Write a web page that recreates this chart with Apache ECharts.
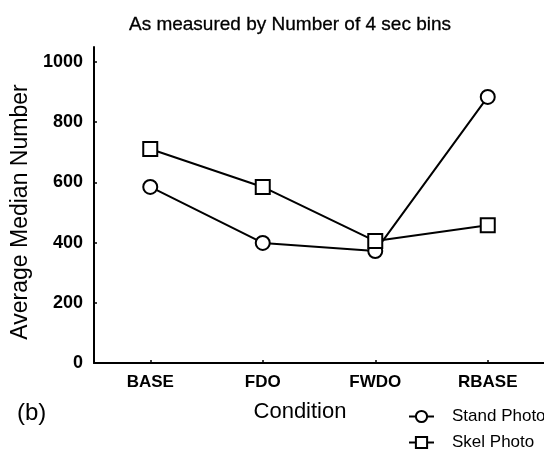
<!DOCTYPE html>
<html>
<head>
<meta charset="utf-8">
<script src="https://cdn.jsdelivr.net/npm/echarts@6/dist/echarts.min.js"></script>
<style>
  html, body { margin: 0; padding: 0; background: #fff; }
  #chart { width: 544px; height: 450px; }
</style>
</head>
<body>
<div id="chart"></div>
<script>
// Conditions along the horizontal axis
const conditions = ['BASE', 'FDO', 'FWDO', 'RBASE'];
// Average median number of 4 sec bins per condition
const standPhoto = [585, 399, 372, 884];
const skelPhoto = [711, 585, 405, 458];
// Values that get a tick and a label on the vertical axis
const yTicks = [0, 200, 400, 600, 800, 1000];

const FONT = '"Liberation Sans", Arial, Helvetica, sans-serif';
const INK = '#000';

const chart = echarts.init(document.getElementById('chart'), null, { renderer: 'canvas' });

// One legend entry per block so the two rows sit exactly where wanted
function legendBlock(name, top) {
  return {
    orient: 'vertical',
    left: 408,
    top: top,
    padding: 0,
    itemWidth: 25,
    itemHeight: 14,
    textStyle: { fontFamily: FONT, fontSize: 17, color: INK, padding: [0, 0, 0, 13] },
    data: [name]
  };
}

chart.setOption({
  animation: false,
  backgroundColor: '#fff',
  title: {
    text: 'As measured by Number of 4 sec bins',
    left: 285,
    top: 10,
    textAlign: 'center',
    textStyle: { fontFamily: FONT, fontSize: 19, fontWeight: 'normal', color: INK, textBorderColor: INK, textBorderWidth: 0.3 }
  },
  grid: { left: 94, top: 47, width: 452, bottom: 87, containLabel: false },
  legend: [legendBlock('Stand Photo', 408), legendBlock('Skel Photo', 434)],
  xAxis: {
    type: 'category',
    data: conditions,
    boundaryGap: true,
    name: 'Condition',
    nameLocation: 'middle',
    nameGap: 38,
    nameTextStyle: { fontFamily: FONT, fontSize: 22, color: INK, padding: [0, 38, 0, 0] },
    axisLine: { lineStyle: { color: INK, width: 2 } },
    axisTick: { show: true, inside: true, length: 3, alignWithLabel: true, lineStyle: { color: INK, width: 1.5 } },
    axisLabel: { fontFamily: FONT, fontSize: 17, fontWeight: 'bold', color: INK, margin: 11 },
    splitLine: { show: false }
  },
  yAxis: {
    type: 'value',
    min: 0,
    max: 1050,
    name: 'Average Median Number',
    nameLocation: 'middle',
    nameGap: 56,
    nameTextStyle: { fontFamily: FONT, fontSize: 23, color: INK, padding: [0, 14, 0, 0] },
    axisLine: { show: true, lineStyle: { color: INK, width: 2 } },
    axisTick: { show: true, inside: true, length: 3, customValues: yTicks, lineStyle: { color: INK, width: 1.5 } },
    axisLabel: {
      fontFamily: FONT, fontSize: 18, fontWeight: 'bold', color: INK, margin: 11,
      customValues: yTicks,
      formatter: function (v) { return String(v); }
    },
    splitLine: { show: false }
  },
  graphic: [
    {
      type: 'text',
      left: 17,
      top: 401,
      style: { text: '(b)', font: '24px ' + FONT, fill: INK }
    }
  ],
  series: [
    {
      name: 'Stand Photo',
      type: 'line',
      data: standPhoto,
      symbol: 'emptyCircle',
      symbolSize: 14,
      lineStyle: { color: INK, width: 2 },
      itemStyle: { color: INK, borderColor: INK, borderWidth: 2 },
      z: 2
    },
    {
      name: 'Skel Photo',
      type: 'line',
      data: skelPhoto,
      symbol: 'emptyRect',
      symbolSize: 14,
      lineStyle: { color: INK, width: 2 },
      itemStyle: { color: INK, borderColor: INK, borderWidth: 2 },
      z: 3
    }
  ]
});
</script>
</body>
</html>
